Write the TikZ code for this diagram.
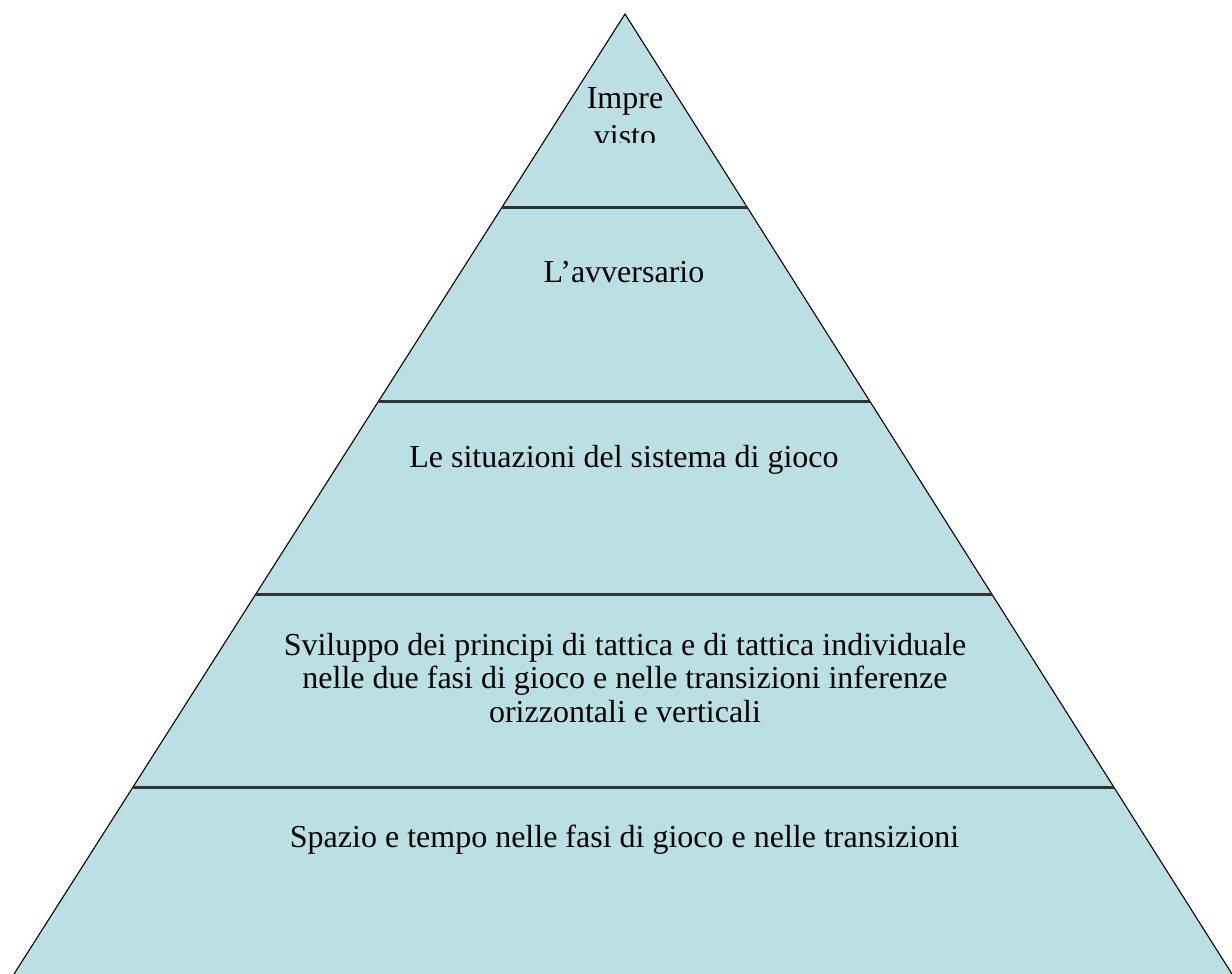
\documentclass[tikz,border=0pt]{standalone}
\usepackage{fontspec}
\setmainfont{Liberation Serif}
\definecolor{tierfill}{RGB}{187,224,227}
\begin{document}
\begin{tikzpicture}[x=1pt,y=-1pt,
  tiertext/.style={anchor=base,inner sep=0pt,align=center,
    font=\fontsize{32}{33.5}\selectfont},
  outline/.style={draw=black,line width=1.1pt},
  divider/.style={draw=black!80,line width=3pt}]
\useasboundingbox (0,0) rectangle (1232,974);

% pyramid corners
\coordinate (apex) at (625,14);
\coordinate (bl) at (14,974);
\coordinate (br) at (1232,974);

% tier boundaries on the left and right edges
\coordinate (l1) at (502.2,207);  \coordinate (r1) at (747.0,207);
\coordinate (l2) at (378.7,401);  \coordinate (r2) at (869.6,401);
\coordinate (l3) at (255.8,594);  \coordinate (r3) at (991.6,594);
\coordinate (l4) at (133.0,787);  \coordinate (r4) at (1113.5,787);

\fill[tierfill] (apex) -- (br) -- (bl) -- cycle;
\draw[outline] (bl) -- (apex) -- (br);
\foreach \i in {1,...,4} \draw[divider] (l\i) -- (r\i);

% top tier: the text box cuts off the second line
% (anchor=base sits on the last line of a multi-line node)
\begin{scope}
  \clip (560,60) rectangle (690,142);
  \node[tiertext,font=\fontsize{32}{38}\selectfont] (top) at (625,146) {Impre\\visto};
\end{scope}
\node[tiertext] (opp) at (624,282) {L’avversario};
\node[tiertext] (sys) at (624,467) {Le situazioni del sistema di gioco};
\node[tiertext] (dev) at (625,722) {Sviluppo dei principi di tattica e di tattica individuale\\nelle due fasi di gioco e nelle transizioni inferenze\\orizzontali e verticali};
\node[tiertext] (base) at (624.5,847) {Spazio e tempo nelle fasi di gioco e nelle transizioni};
\end{tikzpicture}
\end{document}
